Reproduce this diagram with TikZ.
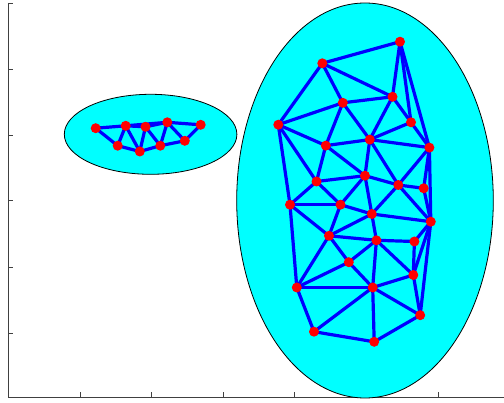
\documentclass[tikz,border=0pt]{standalone}
\definecolor{aquafill}{RGB}{0,255,255}
\definecolor{edgeblue}{RGB}{0,0,255}
\definecolor{dotred}{RGB}{255,0,0}
\pgfdeclarelayer{back}
\pgfdeclarelayer{links}
\pgfsetlayers{back,links,main}
\begin{document}
\begin{tikzpicture}[x=1pt,y=-1pt,
  axisline/.style={draw=black!75,line width=1pt},
  tickline/.style={draw=black!75,line width=0.9pt},
  region/.style={fill=aquafill,draw=black,line width=0.8pt},
  edge/.style={draw=edgeblue,line width=3.2pt},
  dot/.style={circle,fill=dotred,inner sep=0pt,minimum size=10pt}]
\useasboundingbox (0,0) rectangle (504,403);
% small cluster nodes
\node[dot] (s1) at (95.7,128.2) {};
\node[dot] (s2) at (125.7,125.8) {};
\node[dot] (s3) at (145.5,126.8) {};
\node[dot] (s4) at (167.3,122.3) {};
\node[dot] (s5) at (200.7,124.8) {};
\node[dot] (s6) at (117.7,145.7) {};
\node[dot] (s7) at (139.8,151.5) {};
\node[dot] (s8) at (160.3,145.7) {};
\node[dot] (s9) at (184.8,140.8) {};
% big cluster nodes
\node[dot] (b1) at (400,41.7) {};
\node[dot] (b2) at (322.3,63.3) {};
\node[dot] (b3) at (342.8,102.8) {};
\node[dot] (b4) at (392.5,96.8) {};
\node[dot] (b5) at (278.3,124.7) {};
\node[dot] (b6) at (411,122.3) {};
\node[dot] (b7) at (369.8,139.6) {};
\node[dot] (b8) at (325.8,145.6) {};
\node[dot] (b9) at (429.4,147.6) {};
\node[dot] (b10) at (316.5,181.5) {};
\node[dot] (b11) at (365,175.7) {};
\node[dot] (b12) at (398.3,185) {};
\node[dot] (b13) at (423.7,188.3) {};
\node[dot] (b14) at (290,204.7) {};
\node[dot] (b15) at (340.5,204.7) {};
\node[dot] (b16) at (371.8,214) {};
\node[dot] (b17) at (430.8,221.7) {};
\node[dot] (b18) at (329,235.8) {};
\node[dot] (b19) at (376.4,240.3) {};
\node[dot] (b20) at (414.4,241.5) {};
\node[dot] (b21) at (348.8,262.2) {};
\node[dot] (b22) at (413.3,275) {};
\node[dot] (b23) at (296.8,287.5) {};
\node[dot] (b24) at (372.7,287.5) {};
\node[dot] (b25) at (420.2,315.2) {};
\node[dot] (b26) at (314,331.7) {};
\node[dot] (b27) at (374.2,341.8) {};
\begin{pgfonlayer}{back}
% axes
\draw[axisline] (8,3) -- (8,398) -- (504,398);
\foreach \yy in {3,69,135,200,267,333} \draw[tickline] (8,\yy) -- (13,\yy);
\foreach \xx in {80,151,223,294,366,438} \draw[tickline] (\xx,398) -- (\xx,392);
% regions
\draw[region] (150.6,134.3) ellipse [x radius=86.3, y radius=40];
\draw[region] (365,200.5) ellipse [x radius=128.3, y radius=197.5];
\end{pgfonlayer}
\begin{pgfonlayer}{links}
\foreach \a/\b in {s1/s2,s2/s3,s3/s4,s2/s4,s4/s5,s1/s6,s6/s2,s2/s7,s6/s7,s3/s7,s3/s8,s7/s8,s4/s8,s4/s9,s8/s9,s9/s5,
  b1/b2,b1/b4,b1/b6,b1/b9,b2/b5,b2/b3,b2/b4,b3/b4,b3/b5,b3/b8,b3/b7,b4/b7,b4/b6,b6/b7,b6/b9,b7/b8,b7/b9,
  b5/b8,b5/b10,b5/b14,b8/b10,b8/b11,b7/b11,b7/b12,b9/b12,b9/b13,b9/b17,b11/b12,b12/b13,b13/b17,b12/b17,b12/b16,
  b10/b11,b10/b14,b10/b15,b11/b15,b11/b16,b14/b15,b14/b18,b14/b23,b15/b16,b15/b18,b16/b18,b16/b19,b16/b17,
  b18/b19,b18/b21,b18/b23,b19/b20,b17/b20,b19/b21,b19/b24,b19/b22,b20/b22,b17/b22,b17/b25,b21/b23,b21/b24,
  b23/b24,b22/b24,b22/b25,b24/b25,b23/b26,b24/b26,b24/b27,b26/b27,b25/b27}
  \draw[edge] (\a.center) -- (\b.center);
\end{pgfonlayer}
\end{tikzpicture}
\end{document}
